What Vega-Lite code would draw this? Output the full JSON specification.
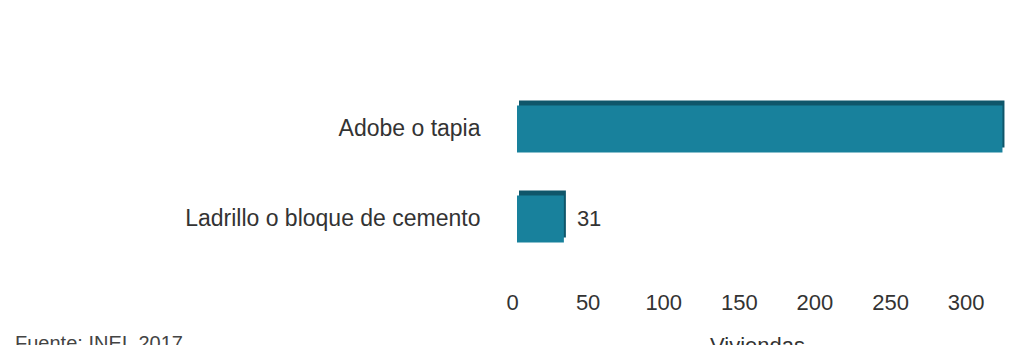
{
  "$schema": "https://vega.github.io/schema/vega-lite/v6.json",
  "autosize": "none",
  "width": 490,
  "height": 180,
  "padding": {"left": 512, "top": 84, "right": 28, "bottom": 81},
  "background": "white",
  "config": {
    "view": {"stroke": null},
    "font": "Liberation Sans"
  },
  "title": {
    "text": "Fuente: INEI, 2017",
    "orient": "bottom",
    "anchor": "start",
    "frame": "group",
    "baseline": "top",
    "font": "Liberation Sans",
    "fontSize": 20,
    "fontWeight": "normal",
    "color": "#444444",
    "dx": -497,
    "dy": -22,
    "offset": 0
  },
  "data": {
    "values": [
      {"material": "Adobe o tapia", "viviendas": 321},
      {"material": "Ladrillo o bloque de cemento", "viviendas": 31}
    ]
  },
  "encoding": {
    "y": {
      "field": "material",
      "type": "nominal",
      "sort": null,
      "scale": {"paddingInner": 0.48, "paddingOuter": 0.24},
      "axis": {
        "title": null,
        "domain": false,
        "ticks": false,
        "labelPadding": 32,
        "labelFontSize": 23,
        "labelColor": "#333333",
        "labelFont": "Liberation Sans",
        "labelLimit": 400
      }
    },
    "x": {
      "field": "viviendas",
      "type": "quantitative",
      "scale": {"domain": [0, 324], "nice": false},
      "axis": {
        "title": "Viviendas",
        "values": [0, 50, 100, 150, 200, 250, 300],
        "domain": false,
        "ticks": false,
        "grid": false,
        "labelPadding": 28,
        "labelFontSize": 22,
        "labelColor": "#333333",
        "labelFont": "Liberation Sans",
        "labelFlush": false,
        "titleFontSize": 22,
        "titleFontWeight": "normal",
        "titleColor": "#333333",
        "titleFont": "Liberation Sans",
        "titlePadding": 22
      }
    }
  },
  "layer": [
    {
      "mark": {"type": "bar", "color": "#0f566a", "xOffset": 7, "yOffset": -5}
    },
    {
      "mark": {"type": "bar", "color": "#18819c", "xOffset": 5}
    },
    {
      "mark": {"type": "text", "align": "left", "baseline": "middle", "dx": 18, "fontSize": 22, "color": "#333333", "clip": true},
      "encoding": {"text": {"field": "viviendas", "type": "quantitative"}}
    }
  ]
}
